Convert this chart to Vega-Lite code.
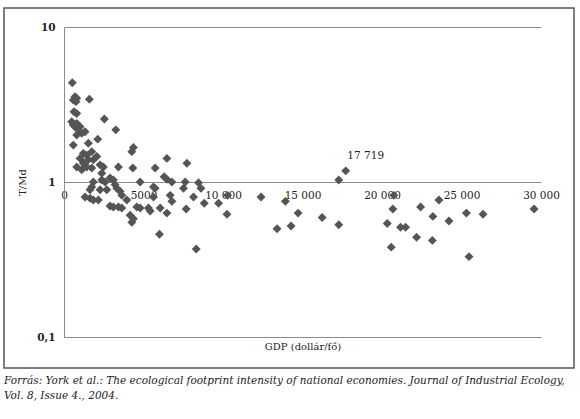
{
  "$schema": "https://vega.github.io/schema/vega-lite/v6.json",
  "width": 477,
  "height": 310,
  "autosize": {"type": "none"},
  "padding": {"left": 64, "top": 27, "right": 39, "bottom": 82},
  "background": "white",
  "config": {
    "view": {"stroke": null},
    "font": "DejaVu Serif"
  },
  "title": {
    "text": [
      "Forrás: York et al.: The ecological footprint intensity of national economies. Journal of Industrial Ecology,",
      "Vol. 8, Issue 4., 2004."
    ],
    "orient": "bottom",
    "anchor": "start",
    "frame": "group",
    "dx": -60,
    "offset": 7,
    "font": "DejaVu Serif",
    "fontStyle": "italic",
    "fontWeight": "normal",
    "fontSize": 10.5,
    "lineHeight": 15,
    "color": "#222222"
  },
  "datasets": {
    "countries": [
      {"gdp": 523, "tmd": 4.37}, {"gdp": 693, "tmd": 3.55}, {"gdp": 586, "tmd": 3.38}, {"gdp": 756, "tmd": 3.30},
      {"gdp": 800, "tmd": 3.47}, {"gdp": 1594, "tmd": 3.42}, {"gdp": 630, "tmd": 2.84}, {"gdp": 800, "tmd": 2.77},
      {"gdp": 485, "tmd": 2.45}, {"gdp": 586, "tmd": 2.33}, {"gdp": 800, "tmd": 2.39}, {"gdp": 693, "tmd": 2.27},
      {"gdp": 1008, "tmd": 2.27}, {"gdp": 901, "tmd": 2.17}, {"gdp": 1115, "tmd": 2.06}, {"gdp": 1323, "tmd": 2.11},
      {"gdp": 800, "tmd": 2.01}, {"gdp": 2539, "tmd": 2.55}, {"gdp": 3257, "tmd": 2.17}, {"gdp": 2123, "tmd": 1.89},
      {"gdp": 586, "tmd": 1.73}, {"gdp": 1531, "tmd": 1.78}, {"gdp": 4366, "tmd": 1.67}, {"gdp": 4265, "tmd": 1.57},
      {"gdp": 1216, "tmd": 1.53}, {"gdp": 1430, "tmd": 1.49}, {"gdp": 1745, "tmd": 1.57}, {"gdp": 2060, "tmd": 1.46},
      {"gdp": 1846, "tmd": 1.39}, {"gdp": 1531, "tmd": 1.39}, {"gdp": 1008, "tmd": 1.42}, {"gdp": 1216, "tmd": 1.32},
      {"gdp": 800, "tmd": 1.25}, {"gdp": 1430, "tmd": 1.25}, {"gdp": 1745, "tmd": 1.23}, {"gdp": 2268, "tmd": 1.29},
      {"gdp": 1115, "tmd": 1.20}, {"gdp": 3421, "tmd": 1.25}, {"gdp": 4328, "tmd": 1.23}, {"gdp": 5733, "tmd": 1.23},
      {"gdp": 2375, "tmd": 1.14}, {"gdp": 2476, "tmd": 1.25}, {"gdp": 6470, "tmd": 1.42}, {"gdp": 7730, "tmd": 1.32},
      {"gdp": 6300, "tmd": 1.08}, {"gdp": 6470, "tmd": 1.04}, {"gdp": 6785, "tmd": 1.00}, {"gdp": 7623, "tmd": 1.00},
      {"gdp": 7516, "tmd": 0.91}, {"gdp": 8461, "tmd": 0.99}, {"gdp": 8612, "tmd": 0.91}, {"gdp": 5626, "tmd": 0.93},
      {"gdp": 4788, "tmd": 1.00}, {"gdp": 1846, "tmd": 1.00}, {"gdp": 1745, "tmd": 0.93}, {"gdp": 1638, "tmd": 0.89},
      {"gdp": 2375, "tmd": 1.03}, {"gdp": 2583, "tmd": 1.00}, {"gdp": 2898, "tmd": 1.06}, {"gdp": 3106, "tmd": 1.03},
      {"gdp": 3213, "tmd": 0.96}, {"gdp": 2268, "tmd": 0.89}, {"gdp": 2690, "tmd": 0.89}, {"gdp": 3320, "tmd": 0.91},
      {"gdp": 3528, "tmd": 0.87}, {"gdp": 3635, "tmd": 0.82}, {"gdp": 1323, "tmd": 0.80}, {"gdp": 1638, "tmd": 0.785},
      {"gdp": 1846, "tmd": 0.765}, {"gdp": 2161, "tmd": 0.765}, {"gdp": 2898, "tmd": 0.70}, {"gdp": 3106, "tmd": 0.69},
      {"gdp": 3421, "tmd": 0.69}, {"gdp": 3635, "tmd": 0.68}, {"gdp": 3950, "tmd": 0.765}, {"gdp": 4158, "tmd": 0.61},
      {"gdp": 4366, "tmd": 0.58}, {"gdp": 4265, "tmd": 0.55}, {"gdp": 4580, "tmd": 0.69}, {"gdp": 4788, "tmd": 0.68},
      {"gdp": 5311, "tmd": 0.68}, {"gdp": 5418, "tmd": 0.65}, {"gdp": 5733, "tmd": 0.91}, {"gdp": 5626, "tmd": 0.80},
      {"gdp": 6048, "tmd": 0.68}, {"gdp": 6470, "tmd": 0.63}, {"gdp": 6678, "tmd": 0.82}, {"gdp": 6785, "tmd": 0.75},
      {"gdp": 6004, "tmd": 0.46}, {"gdp": 7686, "tmd": 0.67}, {"gdp": 8146, "tmd": 0.80}, {"gdp": 8820, "tmd": 0.73},
      {"gdp": 9721, "tmd": 0.73}, {"gdp": 10250, "tmd": 0.62}, {"gdp": 8316, "tmd": 0.37}, {"gdp": 10288, "tmd": 0.82},
      {"gdp": 12392, "tmd": 0.80}, {"gdp": 13400, "tmd": 0.50}, {"gdp": 13923, "tmd": 0.75}, {"gdp": 14723, "tmd": 0.63},
      {"gdp": 14282, "tmd": 0.52}, {"gdp": 16235, "tmd": 0.59}, {"gdp": 17281, "tmd": 0.53}, {"gdp": 17281, "tmd": 1.03},
      {"gdp": 17719, "tmd": 1.18}, {"gdp": 20746, "tmd": 0.82}, {"gdp": 20683, "tmd": 0.67}, {"gdp": 20330, "tmd": 0.54},
      {"gdp": 20582, "tmd": 0.38}, {"gdp": 21168, "tmd": 0.51}, {"gdp": 21483, "tmd": 0.51}, {"gdp": 22176, "tmd": 0.44},
      {"gdp": 22428, "tmd": 0.69}, {"gdp": 23203, "tmd": 0.60}, {"gdp": 23165, "tmd": 0.42}, {"gdp": 23581, "tmd": 0.765},
      {"gdp": 24211, "tmd": 0.56}, {"gdp": 25307, "tmd": 0.63}, {"gdp": 25471, "tmd": 0.33}, {"gdp": 26353, "tmd": 0.62},
      {"gdp": 29566, "tmd": 0.67}
    ]
  },
  "layer": [
    {
      "data": {"values": [{}]},
      "mark": {"type": "rect", "fill": null, "stroke": "#555555", "strokeWidth": 1.5, "clip": false},
      "encoding": {
        "x": {"datum": -3774, "type": "quantitative", "scale": {"domain": [0, 30000], "nice": false, "zero": false}, "axis": null},
        "x2": {"datum": 32075},
        "y": {"datum": 0.0631, "type": "quantitative", "scale": {"type": "log", "domain": [0.1, 10], "nice": false}, "axis": null},
        "y2": {"datum": 13.27}
      }
    },
    {
      "data": {"name": "countries"},
      "mark": {"type": "point", "shape": "diamond", "filled": true, "size": 80, "color": "#555555", "opacity": 1, "clip": false},
      "encoding": {
        "x": {
          "field": "gdp",
          "type": "quantitative",
          "scale": {"domain": [0, 30000], "nice": false, "zero": false},
          "axis": {
            "orient": "bottom",
            "title": null,
            "values": [0, 5000, 10000, 15000, 20000, 25000, 30000],
            "labelExpr": "datum.value < 10000 ? format(datum.value, 'd') : replace(format(datum.value, ','), ',', ' ')",
            "offset": -155,
            "domain": false,
            "ticks": false,
            "grid": false,
            "labelPadding": 8,
            "labelFont": "DejaVu Serif",
            "labelFontSize": 10.5,
            "labelColor": "#222222",
            "labelFlush": false
          }
        },
        "y": {
          "field": "tmd",
          "type": "quantitative",
          "scale": {"type": "log", "domain": [0.1, 10], "nice": false},
          "axis": {
            "orient": "left",
            "title": "T/Md",
            "values": [0.1, 1, 10],
            "labelExpr": "datum.value < 0.5 ? '0,1' : format(datum.value, 'd')",
            "ticks": false,
            "grid": true,
            "gridColor": "#8c8c8c",
            "gridWidth": 1,
            "domain": true,
            "domainColor": "#8c8c8c",
            "domainWidth": 1,
            "labelPadding": 9,
            "labelFont": "DejaVu Serif",
            "labelFontSize": 10.5,
            "labelFontWeight": "bold",
            "labelColor": "#222222",
            "titleFont": "DejaVu Serif",
            "titleFontSize": 10,
            "titleFontWeight": "normal",
            "titleColor": "#222222",
            "titlePadding": 9
          }
        }
      }
    },
    {
      "data": {"values": [{"gdp": 17719, "tmd": 1.18, "label": "17 719"}]},
      "mark": {"type": "text", "dx": 20, "dy": -15, "font": "DejaVu Serif", "fontSize": 10.5, "color": "#222222"},
      "encoding": {
        "x": {
          "field": "gdp",
          "type": "quantitative",
          "scale": {"domain": [0, 30000], "nice": false, "zero": false},
          "axis": {
            "orient": "bottom",
            "title": "GDP (dollár/fő)",
            "labels": false,
            "ticks": false,
            "grid": false,
            "domain": true,
            "domainColor": "#8c8c8c",
            "domainWidth": 1,
            "titleFont": "DejaVu Serif",
            "titleFontSize": 10,
            "titleFontWeight": "normal",
            "titleColor": "#222222",
            "titlePadding": 4
          }
        },
        "y": {
          "field": "tmd",
          "type": "quantitative",
          "scale": {"type": "log", "domain": [0.1, 10], "nice": false},
          "axis": null
        },
        "text": {"field": "label"}
      }
    }
  ],
  "resolve": {"axis": {"x": "independent", "y": "independent"}}
}
